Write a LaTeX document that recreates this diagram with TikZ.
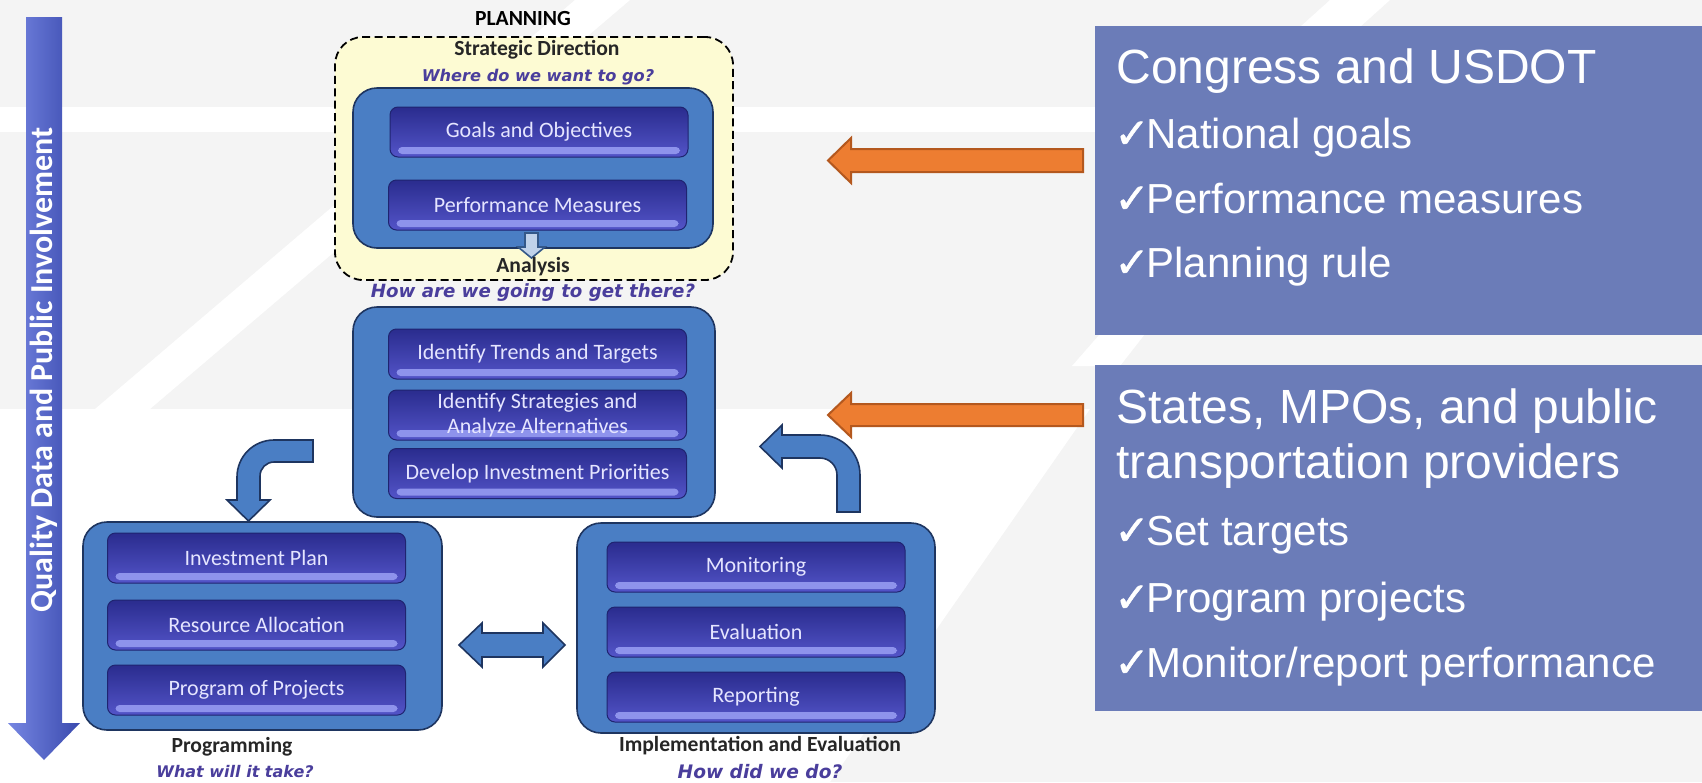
\documentclass[tikz,border=0pt]{standalone}
\usepackage{fontspec}
\setmainfont{Carlito}
\newfontfamily\arialfont{Liberation Sans}
\newfontfamily\dvfont{DejaVu Sans}
\newfontfamily\chkfont[FakeBold=1.2]{DejaVu Sans}
\usetikzlibrary{calc}

\definecolor{bggray}{HTML}{F4F4F4}
\definecolor{panelblue}{HTML}{6B7CB8}
\definecolor{boxblue}{HTML}{4A7EC4}
\definecolor{boxedge}{HTML}{1E3560}
\definecolor{pillTop}{HTML}{2A2C8E}
\definecolor{pillMid}{HTML}{3C3DB3}
\definecolor{pillBot}{HTML}{5354C8}
\definecolor{pillShine}{HTML}{8E93EC}
\definecolor{pillEdge}{HTML}{1F2470}
\definecolor{askcolor}{HTML}{4A3E9C}
\definecolor{paleyellow}{HTML}{FDFBD3}
\definecolor{orangefill}{HTML}{ED7D31}
\definecolor{orangeedge}{HTML}{B4581E}
\definecolor{barLeft}{HTML}{7686E2}
\definecolor{barRight}{HTML}{3A4AAE}

\newcommand\mychk{{\chkfont\kern-1pt✓\kern-1.5pt}}

\tikzset{
  container/.style={draw=boxedge, line width=0.8pt, fill=boxblue, rounded corners=12pt, inner sep=0pt},
  dashbox/.style={draw=black, line width=0.9pt, dash pattern=on 4pt off 2.2pt, fill=paleyellow, rounded corners=14pt, inner sep=0pt},
  pill/.style={draw=pillEdge, line width=0.5pt, rounded corners=4pt,
    top color=pillTop, middle color=pillMid, bottom color=pillBot,
    minimum width=149pt, minimum height=25pt, inner sep=0pt,
    text=white!90!blue, font=\fontsize{11}{12.5}\selectfont, align=center,
    path picture={\fill[pillShine, rounded corners=2pt]
      ($(path picture bounding box.south west)+(4pt,1.5pt)$) rectangle
      ($(path picture bounding box.south east)+(-4pt,5pt)$);}},
  steplabel/.style={font=\fontsize{10.8}{12}\selectfont\bfseries, text=black!85, inner sep=0pt},
  asklabel/.style={font=\dvfont\bfseries\itshape, text=askcolor, inner sep=0pt},
  panel/.style={fill=panelblue, inner sep=0pt, anchor=north west},
  paneltitle/.style={font=\arialfont\fontsize{24}{28}\selectfont, text=white, anchor=base west, inner sep=0pt},
  panelitem/.style={font=\arialfont\fontsize{21}{25}\selectfont, text=white, anchor=base west, inner sep=0pt},
  bluearrow/.style={fill=boxblue, draw=boxedge, line width=0.8pt, line join=miter},
  orangearrow/.style={fill=orangefill, draw=orangeedge, line width=1pt, line join=miter}
}

\begin{document}
\begin{tikzpicture}[x=0.5pt, y=-0.5pt]
\useasboundingbox (0,0) rectangle (1702,782);

% backdrop: light gray with white bands
\fill[bggray] (0,0) rectangle (1702,782);
\fill[white] (0,107) rectangle (1095,132);
\fill[white] (575,0) -- (630,0) -- (150,409) -- (95,409) -- cycle;
\fill[white] (0,409) -- (1090,409) -- (830,782) -- (0,782) -- cycle;
\fill[white] (1100,334) -- (1145,334) -- (1120,366) -- (1072,366) -- cycle;
\fill[white] (1330,0) -- (1390,0) -- (1360,27) -- (1300,27) -- cycle;

% vertical arrow on the left
\shade[left color=barLeft, right color=barRight]
  (26,17) -- (62,17) -- (62,723) -- (80,723) -- (44,760) -- (8,723) -- (26,723) -- cycle;
\node[rotate=90, text=white, font=\fontsize{16}{18}\selectfont\bfseries, inner sep=0pt]
  (quality) at (44,370) {Quality Data and Public Involvement};

% planning stage
\node[font=\fontsize{10.8}{12}\selectfont\bfseries, inner sep=0pt] (planning) at (523,18) {PLANNING};
\node[dashbox, minimum width=199pt, minimum height=121.5pt] (strategic) at (534,158.5) {};
\node[steplabel] (stratlabel) at (537,50) {Strategic Direction};
\node[asklabel, font=\dvfont\bfseries\itshape\fontsize{8.1}{10}\selectfont] (stratask) at (538,77) {Where do we want to go?};
\node[container, minimum width=180pt, minimum height=80pt] (plancont) at (533,168) {};
\node[pill] (goals) at (539,132) {Goals and Objectives};
\node[pill] (perf) at (537.5,205) {Performance Measures};

% small hollow arrow into analysis
\coordinate (smalltop) at (531.5,233);
\draw[fill=boxblue!35!white, draw=boxblue!70!black, line width=0.8pt]
  ($(smalltop)+(-6.5,0)$) -- ($(smalltop)+(6.5,0)$) -- ($(smalltop)+(6.5,14)$) -- ($(smalltop)+(13.5,14)$)
  -- ($(smalltop)+(0,25)$) -- ($(smalltop)+(-13.5,14)$) -- ($(smalltop)+(-6.5,14)$) -- cycle;

\node[steplabel] (analysis) at (533,267) {Analysis};
\node[asklabel, font=\dvfont\bfseries\itshape\fontsize{9.1}{11}\selectfont] (analask) at (533,293) {How are we going to get there?};

% analysis stage
\node[container, minimum width=181pt, minimum height=105pt] (analcont) at (534,412) {};
\node[pill] (trends) at (537.5,354) {Identify Trends and Targets};
\node[pill, font=\fontsize{11}{12.2}\selectfont] (strategies) at (537.5,415) {Identify Strategies and\\Analyze Alternatives};
\node[pill] (priorities) at (537.5,473.5) {Develop Investment Priorities};

% programming stage
\node[container, minimum width=179.5pt, minimum height=104pt] (progcont) at (262.5,626) {};
\node[pill] (invest) at (256.5,558) {Investment Plan};
\node[pill] (resource) at (256.5,625) {Resource Allocation};
\node[pill] (projects) at (256.5,690) {Program of Projects};
\node[steplabel] (programming) at (232,747) {Programming};
\node[asklabel, font=\dvfont\bfseries\itshape\fontsize{8}{10}\selectfont] (progask) at (235,772) {What will it take?};

% implementation stage
\node[container, minimum width=179pt, minimum height=105pt] (implcont) at (756,628) {};
\node[pill] (monitoring) at (756,567) {Monitoring};
\node[pill] (evaluation) at (756,632) {Evaluation};
\node[pill] (reporting) at (756,697) {Reporting};
\node[steplabel] (implementation) at (760,746) {Implementation and Evaluation};
\node[asklabel, font=\dvfont\bfseries\itshape\fontsize{9.3}{11}\selectfont] (implask) at (760,772) {How did we do?};

% curved block arrow: analysis -> programming
\draw[bluearrow] (313,440) -- (274,440) .. controls (253.6,440) and (237,456.4) .. (237,477)
  -- (237,500) -- (227,500) -- (248.5,521) -- (270,500) -- (260,500) -- (260,476)
  .. controls (260,468.3) and (266.3,462) .. (274,462) -- (313,462) -- cycle;

% curved block arrow: implementation -> analysis
\draw[bluearrow] (837,512) -- (837,475) .. controls (837,465.6) and (829.4,458) .. (820,458)
  -- (782,458) -- (782,468) -- (760,446.5) -- (782,425) -- (782,435) -- (820,435)
  .. controls (842.1,435) and (860,452.9) .. (860,475) -- (860,512) -- cycle;

% two-way block arrow between programming and implementation
\draw[bluearrow] (459,645) -- (482,623) -- (482,633) -- (543,633) -- (543,623) -- (565,645)
  -- (543,667) -- (543,657) -- (482,657) -- (482,667) -- cycle;

% right-hand panels
\node[panel, minimum width=303.5pt, minimum height=154.5pt] (federal) at (1095,26) {};
\node[panel, minimum width=303.5pt, minimum height=173pt] (local) at (1095,365) {};

\node[paneltitle] (fedtitle) at (1116,83) {Congress and USDOT};
\node[panelitem] (fed1) at (1116,148) {\mychk National goals};
\node[panelitem] (fed2) at (1116,213) {\mychk Performance measures};
\node[panelitem] (fed3) at (1116,277) {\mychk Planning rule};

\node[paneltitle] (loctitle) at (1116,423) {States, MPOs, and public};
\node[paneltitle] (loctitleb) at (1116,478) {transportation providers};
\node[panelitem] (loc1) at (1116,545) {\mychk Set targets};
\node[panelitem] (loc2) at (1116,612) {\mychk Program projects};
\node[panelitem] (loc3) at (1116,677) {\mychk Monitor/report performance};

% orange arrows from the panels toward the diagram
\draw[orangearrow] (1083,149) -- (851,149) -- (851,138) -- (828,160.5) -- (851,183) -- (851,172) -- (1083,172) -- cycle;
\draw[orangearrow] (1083,404) -- (851,404) -- (851,393) -- (828,415) -- (851,437) -- (851,426) -- (1083,426) -- cycle;
\end{tikzpicture}
\end{document}
